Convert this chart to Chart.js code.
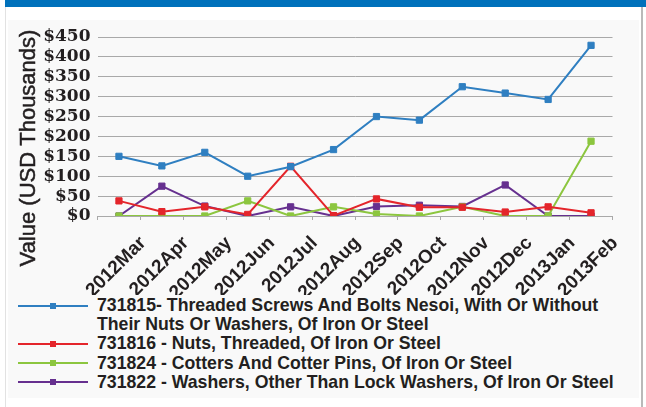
<!DOCTYPE html>
<html>
<head>
<meta charset="utf-8">
<script src="https://cdn.jsdelivr.net/npm/chart.js@4"></script>
<style>
  html, body { margin: 0; padding: 0; background: #fff; }
  body { width: 646px; height: 407px; position: relative; overflow: hidden; font-family: "Liberation Sans", Arial, sans-serif; }
  .band { position: absolute; left: 5px; top: 0; width: 641px; height: 7px; background: #0071bb; }
  .frame { position: absolute; left: 5px; top: 7px; width: 635px; height: 400px; border-left: 1px solid #e2e2e2; border-right: 2px solid #b9b9b9; }
  .panel { position: absolute; left: 8px; top: 20px; width: 631px; height: 378px; background: #f9f9f9; }
  .chart-box { position: absolute; left: 0; top: 0; width: 646px; height: 295px; }
  #legend { position: absolute; left: 0; top: 296px; width: 646px; }
  .item { position: relative; padding-left: 97px; font-size: 17.7px; font-weight: bold; line-height: 19.2px; color: #231f20; white-space: nowrap; }
  .swatch { position: absolute; left: 18px; top: 8.6px; width: 70px; height: 2px; }
  .swatch i { position: absolute; left: 32px; top: -2px; width: 6px; height: 6px; }
</style>
</head>
<body>
<div class="band"></div>
<div class="frame"></div>
<div class="panel"></div>
<div class="chart-box"><canvas id="chart"></canvas></div>
<div id="legend"></div>
<script>
// ======== Data ========
const months = ['2012Mar', '2012Apr', '2012May', '2012Jun', '2012Jul', '2012Aug',
                '2012Sep', '2012Oct', '2012Nov', '2012Dec', '2013Jan', '2013Feb'];
const screws = [150, 126, 160, 100, 124, 167, 250, 241, 325, 309, 293, 429];
const nuts = [38, 11, 23, 4, 125, 1, 43, 22, 22, 10, 23, 8];
const cotters = [0, 0, 0, 38, 0, 23, 5, 0, 23, 0, 0, 188];
const washers = [0, 75, 25, 0, 23, 0, 24, 27, 24, 78, 0, 0];
const yTicks = [0, 50, 100, 150, 200, 250, 300, 350, 400, 450];

const seriesNames = [
    ['731815- Threaded Screws And Bolts Nesoi, With Or Without', 'Their Nuts Or Washers, Of Iron Or Steel'],
    ['731816 - Nuts, Threaded, Of Iron Or Steel'],
    ['731824 - Cotters And Cotter Pins, Of Iron Or Steel'],
    ['731822 - Washers, Other Than Lock Washers, Of Iron Or Steel'],
];
const seriesColors = ['#2f7fc1', '#e4252b', '#8cc63f', '#66308f'];
const seriesValues = [screws, nuts, cotters, washers];

const textColor = '#231f20';
const gridColor = '#a9a9a9';

// ======== Y axis title (placed like the original, below the plot centre) ========
const yTitle = {
    id: 'yTitle',
    afterDraw(chart) {
        const ctx = chart.ctx;
        ctx.save();
        ctx.translate(29, 148);
        ctx.rotate(-Math.PI / 2);
        ctx.font = '22px "Liberation Sans", Arial, sans-serif';
        ctx.fillStyle = textColor;
        ctx.strokeStyle = textColor;
        ctx.lineWidth = 0.5;
        ctx.textAlign = 'center';
        ctx.textBaseline = 'middle';
        const t = 'Value (USD Thousands)';
        ctx.fillText(t, 0, 0);
        ctx.strokeText(t, 0, 0);
        ctx.restore();
    }
};

// ======== Chart ========
new Chart(document.getElementById('chart'), {
    type: 'line',
    data: {
        labels: months,
        datasets: seriesValues.map((values, i) => ({
            label: seriesNames[i].join(' '),
            data: values,
            borderColor: seriesColors[i],
            backgroundColor: seriesColors[i],
            borderWidth: 2,
            pointStyle: 'rect',
            pointRadius: 4.4,
            pointBorderWidth: 1,
            tension: 0,
        })),
    },
    options: {
        responsive: true,
        maintainAspectRatio: false,
        animation: false,
        layout: { padding: { left: 0, right: 33.5, top: 37, bottom: 0 } },
        plugins: {
            legend: { display: false },
            tooltip: { enabled: false },
        },
        scales: {
            x: {
                offset: true,
                afterFit: (scale) => { scale.height = 79; },
                grid: { display: true, drawOnChartArea: false, drawTicks: true, tickLength: 4, color: gridColor, offset: true },
                border: { display: true, color: gridColor, width: 1 },
                ticks: {
                    color: textColor,
                    font: { family: '"Liberation Sans", Arial, sans-serif', size: 19, weight: 'bold' },
                    minRotation: 45,
                    maxRotation: 45,
                    autoSkip: false,
                    padding: 12,
                    labelOffset: 24,
                },
            },
            y: {
                min: 0,
                max: 450,
                afterFit: (scale) => { scale.width = 97.5; },
                afterBuildTicks: (scale) => { scale.ticks = yTicks.map(v => ({ value: v })); },
                grid: { color: gridColor, lineWidth: 1, drawTicks: false },
                border: { display: false },
                ticks: {
                    color: textColor,
                    font: { family: '"DejaVu Serif", serif', size: 17, weight: 'bold' },
                    padding: 7,
                    autoSkip: false,
                    callback: (v) => '$' + v,
                },
            },
        },
    },
    plugins: [yTitle],
});

// ======== Legend ========
const legend = document.getElementById('legend');
seriesNames.forEach((lines, i) => {
    const item = document.createElement('div');
    item.className = 'item';
    item.innerHTML = `<span class="swatch" style="background:${seriesColors[i]}"><i style="background:${seriesColors[i]}"></i></span>` + lines.join('<br>');
    legend.appendChild(item);
});
</script>
</body>
</html>
